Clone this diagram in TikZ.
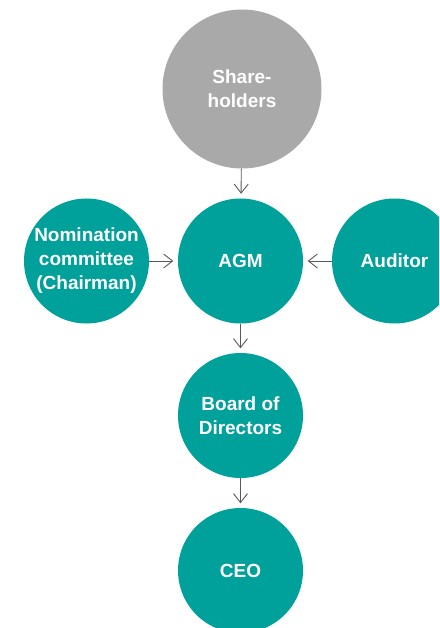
\documentclass[tikz,border=0pt]{standalone}
\usepackage{fontspec}
\setmainfont{Liberation Sans}
\usetikzlibrary{arrows.meta}

\definecolor{teal1}{HTML}{00A09B}
\definecolor{grey1}{HTML}{A9A9A9}

\begin{document}
\begin{tikzpicture}[x=1pt,y=-1pt,
        >={Straight Barb[length=9pt,width=14pt]},
        bubble/.style={circle,fill=teal1,text=white,inner sep=0pt,
            minimum size=125pt,align=center,
            font=\fontsize{19}{24}\selectfont\bfseries},
        link/.style={->,draw=black!65,line width=0.9pt,shorten >=4.5pt}]
    \path[use as bounding box,clip] (0,0) rectangle (439,628);
    \node[bubble,fill=grey1,minimum size=159pt] (share) at (242,89) {Share-\\holders};
    \node[bubble] (agm) at (240.5,261) {AGM};
    \node[bubble] (nom) at (86.5,261) {Nomination\\committee\\(Chairman)};
    \node[bubble] (aud) at (394.5,261) {Auditor};
    \node[bubble] (board) at (240.5,415.5) {Board of\\Directors};
    \node[bubble] (ceo) at (240.5,570.5) {CEO};
    \foreach \a/\b in {share/agm,nom/agm,aud/agm,agm/board,board/ceo}
        \draw[link] (\a) -- (\b);
\end{tikzpicture}
\end{document}
